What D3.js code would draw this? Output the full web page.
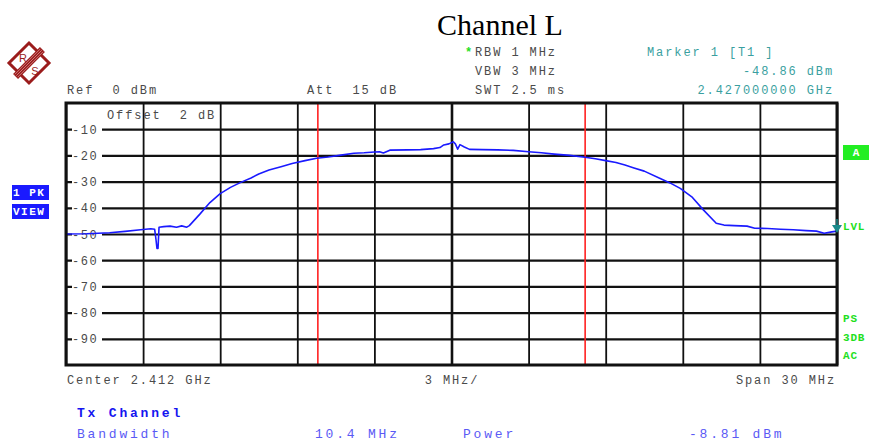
<!DOCTYPE html>
<html>
<head>
<meta charset="utf-8">
<script src="https://cdn.jsdelivr.net/npm/d3@7"></script>
<style>
  html, body { margin: 0; padding: 0; background: #fff; }
  svg { display: block; }
  .mono { font-family: "Liberation Mono", "DejaVu Sans Mono", monospace; }
</style>
</head>
<body>
<svg id="chart" width="869" height="444"></svg>
<script>
// ---- data ----
const freqMHz = [2397.0, 2397.8, 2398.7, 2399.3, 2399.9, 2400.3, 2400.45, 2400.5, 2400.54, 2400.58, 2400.62,
  2400.8, 2401.05, 2401.3, 2401.5, 2401.7, 2401.8, 2402.2, 2402.6, 2403.0, 2403.4, 2403.8, 2404.2, 2404.5,
  2404.9, 2405.4, 2405.8, 2406.3, 2406.75, 2407.2, 2407.7, 2408.2, 2408.6, 2409.0, 2409.2, 2409.35, 2409.6,
  2410.3, 2410.8, 2411.3, 2411.55, 2411.7, 2411.9, 2412.07, 2412.15, 2412.24, 2412.33, 2412.5, 2412.7,
  2413.2, 2413.8, 2414.4, 2415.0, 2415.5, 2416.0, 2416.6, 2417.2, 2417.6, 2418.0, 2418.4, 2418.75, 2419.1,
  2419.5, 2420.1, 2420.5, 2420.9, 2421.35, 2421.8, 2422.3, 2422.6, 2423.0, 2423.5, 2423.8, 2424.3, 2424.8,
  2425.3, 2425.8, 2426.2, 2426.5, 2426.8, 2427.0];
const levelDbm = [-50.0, -49.9, -49.5, -49.0, -48.4, -48.0, -48.2, -52.0, -55.5, -55.5, -47.4,
  -47.2, -47.0, -47.4, -46.9, -47.4, -46.8, -42.5, -38.0, -34.6, -32.2, -30.3, -28.6, -27.1,
  -25.6, -24.2, -23.1, -22.0, -21.1, -20.6, -19.9, -19.2, -19.0, -18.7, -18.6, -19.1, -18.0,
  -17.9, -17.8, -17.4, -17.0, -16.0, -15.6, -14.8, -15.6, -17.6, -15.9, -16.8, -17.7,
  -17.8, -17.9, -18.1, -18.6, -19.0, -19.5, -20.0, -20.7, -21.3, -22.0, -22.7, -23.7, -24.8,
  -26.0, -28.7, -30.5, -32.6, -35.8, -40.8, -45.9, -46.6, -46.8, -47.0, -47.8, -47.9, -48.2,
  -48.4, -48.7, -48.9, -49.7, -49.2, -48.9];
const xGridMHz = [2397, 2400, 2403, 2406, 2409, 2412, 2415, 2418, 2421, 2424, 2427];
const yTicks = [-10, -20, -30, -40, -50, -60, -70, -80, -90];
const yTickLabels = ["-10", "-20", "-30", "-40", "-50", "-60", "-70", "-80", "-90"];
const channelCenterMHz = 2412;
const channelBwMHz = 10.4;
const markerFreqMHz = 2427.0;
const markerLevelDbm = -48.86;

// ---- layout ----
const svg = d3.select("#chart");
const L = 66, R = 837, T = 103, B = 365;
const x = d3.scaleLinear().domain([2397, 2427]).range([L, R]);
const y = d3.scaleLinear().domain([-100, 0]).range([B, T]);

const gray = "#4a4a4a", teal = "#3a9fa0", green = "#1ee01e";

// title
svg.append("text").attr("x", 500).attr("y", 35).attr("text-anchor", "middle")
  .attr("font-family", "'Liberation Serif', 'Times New Roman', serif").attr("font-size", 30)
  .attr("fill", "#000").text("Channel L");

// logo
const logo = svg.append("g").attr("transform", "translate(29,63)");
const lc = "#9b1c1c";
logo.append("path").attr("d", "M0,-20 L20,0 L0,20 L-20,0 Z").attr("fill", "none").attr("stroke", lc).attr("stroke-width", 3);
const band = logo.append("g").attr("transform", "rotate(-45)");
band.append("rect").attr("x", -19).attr("y", -3.5).attr("width", 38).attr("height", 7).attr("fill", lc);
[-2, 0, 2].forEach(o => band.append("line").attr("x1", -18).attr("x2", 18).attr("y1", o).attr("y2", o)
  .attr("stroke", "#e8b0b0").attr("stroke-width", 0.6));
logo.append("text").attr("x", -6).attr("y", -1).attr("text-anchor", "middle").attr("font-family", "'Liberation Sans', sans-serif")
  .attr("font-size", 11).attr("fill", lc).text("R");
logo.append("text").attr("x", 6).attr("y", 12).attr("text-anchor", "middle").attr("font-family", "'Liberation Sans', sans-serif")
  .attr("font-size", 11).attr("fill", lc).text("S");

// header text helper
function mtext(tx, ty, str, opts = {}) {
  return svg.append("text").attr("class", "mono").attr("x", tx).attr("y", ty)
    .attr("font-size", opts.size || 12).attr("letter-spacing", opts.ls != null ? opts.ls : 1.9)
    .attr("font-weight", opts.bold ? "bold" : "normal")
    .attr("text-anchor", opts.anchor || "start").attr("fill", opts.fill || gray)
    .attr("xml:space", "preserve").style("white-space", "pre").text(str);
}

mtext(67, 94, "Ref  0 dBm");
mtext(307, 94, "Att  15 dB");
svg.append("text").attr("x", 465).attr("y", 56).attr("font-size", 12).attr("font-weight", "bold")
  .attr("fill", green).attr("font-family", "'Liberation Mono', monospace").text("*");
mtext(475, 56, "RBW 1 MHz");
mtext(475, 75, "VBW 3 MHz");
mtext(475, 94, "SWT 2.5 ms");
mtext(647, 56, "Marker 1 [T1 ]", { fill: teal });
mtext(834, 75, d3.format(".2f")(markerLevelDbm).replace("−", "-") + " dBm", { fill: teal, anchor: "end" });
mtext(834, 94, d3.format(".9f")(markerFreqMHz / 1000) + " GHz", { fill: teal, anchor: "end" });

// ---- grid ----
const grid = svg.append("g");
const xAxis = d3.axisBottom(x).tickValues(xGridMHz).tickSize(-(B - T)).tickFormat("");
grid.append("g").attr("transform", `translate(0,${B})`).call(xAxis)
  .call(g => g.select(".domain").remove())
  .call(g => g.selectAll(".tick line").attr("stroke", "#111").attr("stroke-width", d => d === channelCenterMHz ? 2.6 : 1.8));
const yAxis = d3.axisLeft(y).tickValues(yTicks).tickSize(-(R - L)).tickFormat("");
grid.append("g").attr("transform", `translate(${L},0)`).call(yAxis)
  .call(g => g.select(".domain").remove())
  .call(g => g.selectAll(".tick line").attr("stroke", "#111").attr("stroke-width", 2.2));

// y tick labels inside plot, with white background
const yl = svg.append("g");
yTicks.forEach((v, i) => {
  yl.append("rect").attr("x", 72).attr("y", y(v) - 6).attr("width", 30).attr("height", 12).attr("fill", "#fff");
  yl.append("text").attr("class", "mono").attr("x", 72).attr("y", y(v) + 4.5).attr("font-size", 12)
    .attr("letter-spacing", 1.6).attr("fill", gray).text(yTickLabels[i]);
});

// offset label
mtext(107, 119, "Offset  2 dB");

// channel bandwidth lines
[channelCenterMHz - channelBwMHz / 2, channelCenterMHz + channelBwMHz / 2].forEach(f => {
  svg.append("line").attr("x1", x(f)).attr("x2", x(f)).attr("y1", T).attr("y2", B)
    .attr("stroke", "#ff2020").attr("stroke-width", 1.6);
});

// trace
const line = d3.line().x((d, i) => x(freqMHz[i])).y((d, i) => y(levelDbm[i]));
svg.append("path").datum(levelDbm).attr("d", line).attr("fill", "none")
  .attr("stroke", "#1a1aff").attr("stroke-width", 1.6).attr("stroke-linejoin", "round");

// frame
svg.append("rect").attr("x", L).attr("y", T).attr("width", R - L).attr("height", B - T)
  .attr("fill", "none").attr("stroke", "#111").attr("stroke-width", 3);

// marker (LVL arrow)
const mx = x(markerFreqMHz), my = y(markerLevelDbm);
svg.append("line").attr("x1", mx).attr("x2", mx).attr("y1", my - 12).attr("y2", my - 3)
  .attr("stroke", "#1a8a8a").attr("stroke-width", 1.5);
svg.append("path").attr("d", `M${mx - 5},${my - 6} L${mx + 5},${my - 6} L${mx},${my + 2} Z`).attr("fill", "#1a8a8a");

// left status boxes
[["1 PK", 185], ["VIEW", 204]].forEach(([t, yy]) => {
  svg.append("rect").attr("x", 12).attr("y", yy).attr("width", 37).attr("height", 15).attr("fill", "#1a1aff");
  svg.append("text").attr("class", "mono").attr("x", 13).attr("y", yy + 11).attr("font-size", 11)
    .attr("font-weight", "bold").attr("letter-spacing", 1.5).attr("fill", "#fff")
    .attr("xml:space", "preserve").style("white-space", "pre").text(t);
});

// right status
svg.append("rect").attr("x", 843).attr("y", 145).attr("width", 26).attr("height", 15).attr("fill", "#22ee22");
svg.append("text").attr("class", "mono").attr("x", 856).attr("y", 156).attr("text-anchor", "middle")
  .attr("font-size", 11).attr("font-weight", "bold").attr("fill", "#fff").text("A");
[["LVL", 230], ["PS", 322], ["3DB", 341], ["AC", 359]].forEach(([t, yy]) => {
  svg.append("text").attr("class", "mono").attr("x", 843).attr("y", yy).attr("font-size", 11)
    .attr("font-weight", "bold").attr("letter-spacing", 0.8).attr("fill", green).text(t);
});

// bottom axis texts
mtext(67, 384, "Center 2.412 GHz");
mtext(452, 384, "3 MHz/", { anchor: "middle" });
mtext(836, 384, "Span 30 MHz", { anchor: "end" });

// channel power table
mtext(77, 417, "Tx Channel", { size: 13, ls: 2.8, bold: true, fill: "#1515f0" });
mtext(77, 438, "Bandwidth", { size: 13, ls: 2.8, fill: "#5a5af5" });
mtext(315, 438, channelBwMHz + " MHz", { size: 13, ls: 2.8, fill: "#5a5af5" });
mtext(463, 438, "Power", { size: 13, ls: 2.8, fill: "#5a5af5" });
mtext(689, 438, "-8.81 dBm", { size: 13, ls: 2.8, fill: "#5a5af5" });
</script>
</body>
</html>
